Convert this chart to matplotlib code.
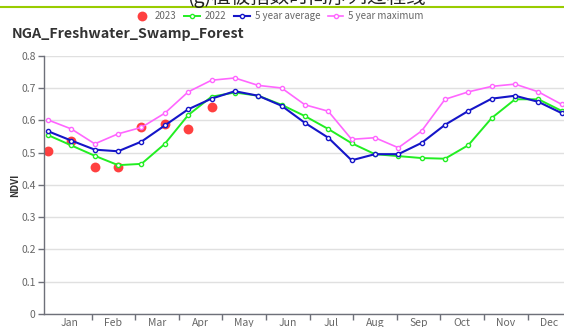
import matplotlib
matplotlib.use('Agg')
import matplotlib.pyplot as plt
from matplotlib.lines import Line2D

plt.rcParams['font.family'] = ['Noto Sans CJK SC', 'DejaVu Sans']

# NDVI 16-day composites over the year
ndvi_2023 = [0.505, 0.535, 0.454, 0.454, 0.578, 0.588, 0.574, 0.640]
ndvi_2022 = [0.554, 0.522, 0.490, 0.461, 0.465, 0.527, 0.616, 0.673, 0.686, 0.676, 0.648, 0.613,
             0.573, 0.529, 0.495, 0.489, 0.483, 0.481, 0.523, 0.607, 0.665, 0.665, 0.629]
ndvi_avg5 = [0.566, 0.537, 0.509, 0.504, 0.534, 0.584, 0.634, 0.667, 0.690, 0.676, 0.645, 0.592,
             0.546, 0.476, 0.495, 0.495, 0.530, 0.586, 0.629, 0.667, 0.676, 0.657, 0.622]
ndvi_max5 = [0.601, 0.573, 0.527, 0.558, 0.578, 0.622, 0.688, 0.724, 0.731, 0.708, 0.700, 0.648,
             0.628, 0.541, 0.546, 0.515, 0.567, 0.665, 0.688, 0.705, 0.712, 0.688, 0.649]
months = ['Jan', 'Feb', 'Mar', 'Apr', 'May', 'Jun', 'Jul', 'Aug', 'Sep', 'Oct', 'Nov', 'Dec']

step = 0.5355  # composite spacing in month units


def xpos(values):
    return [i * step for i in range(len(values))]


W, H = 564, 327
fig = plt.figure(figsize=(W / 100, H / 100), dpi=100)

# header strip (figure caption, mostly off the top edge) and rule
fig.text(307 / W, 1 - 3.5 / H, '(g)植被指数时间序列过程线', ha='center', va='baseline',
         fontsize=14, color='#222222')
fig.add_artist(Line2D([0, 1], [1 - 6.5 / H, 1 - 6.5 / H], transform=fig.transFigure,
                      color='#99CC00', lw=1.5))

left, right_px = 44, 571.3
bottom, top_px = 314, 55.7
ax = fig.add_axes([left / W, (H - bottom) / H, (right_px - left) / W, (bottom - top_px) / H])

grey = '#6E7079'
mk = dict(marker='o', markersize=3.0, markerfacecolor='white', markeredgewidth=1.0)
ax.scatter(xpos(ndvi_2023), ndvi_2023, s=50, color='#FF2B2B', alpha=0.9, lw=0, zorder=2,
           label='2023')
ax.plot(xpos(ndvi_2022), ndvi_2022, color='#22EE22', lw=1.4, zorder=3, label='2022', **mk)
ax.plot(xpos(ndvi_avg5), ndvi_avg5, color='#1515C8', lw=1.5, zorder=4, label='5 year average', **mk)
ax.plot(xpos(ndvi_max5), ndvi_max5, color='#FF66FF', lw=1.2, zorder=5, label='5 year maximum', **mk)

ax.set_ylim(0, 0.8)
ax.set_xlim((44 - 48.07) / 43.63, 12)
ax.set_yticks([i / 10 for i in range(9)])
ax.set_yticklabels(['0'] + [f'{i / 10:.1f}' for i in range(1, 9)])
ax.grid(axis='y', color='#E0E0E0', lw=1.0)
ax.set_axisbelow(True)

ax.set_xticks(range(1, 12))
ax.set_xticklabels([])
ax.set_xticks([m + 0.5 for m in range(12)], minor=True)
ax.set_xticklabels(months, minor=True)
ax.tick_params(axis='x', which='major', length=4, color=grey, width=1)
ax.tick_params(axis='x', which='minor', length=0, pad=3, labelsize=7.5, labelcolor='#666666')
ax.tick_params(axis='y', length=4, color=grey, width=1, pad=2, labelsize=7.5, labelcolor='#666666')

for side in ['top', 'right']:
    ax.spines[side].set_visible(False)
for side in ['left', 'bottom']:
    ax.spines[side].set_color(grey)
    ax.spines[side].set_linewidth(1)

ax.set_ylabel('NDVI', fontsize=7, fontweight='bold', color='#333333', labelpad=1)

fig.text(12 / W, 1 - 34 / H, 'NGA_Freshwater_Swamp_Forest', ha='left', va='center',
         fontsize=10.3, fontweight='bold', color='#333333')

handles, labels = ax.get_legend_handles_labels()
fig.legend(handles, labels, loc='center', bbox_to_anchor=(279 / W, 1 - 16 / H), ncol=4,
           frameon=False, fontsize=7, labelcolor='#666666', handlelength=1.6,
           handletextpad=0.5, columnspacing=0.8, borderpad=0, markerscale=1.0)

fig.savefig('out.png', dpi=100)
